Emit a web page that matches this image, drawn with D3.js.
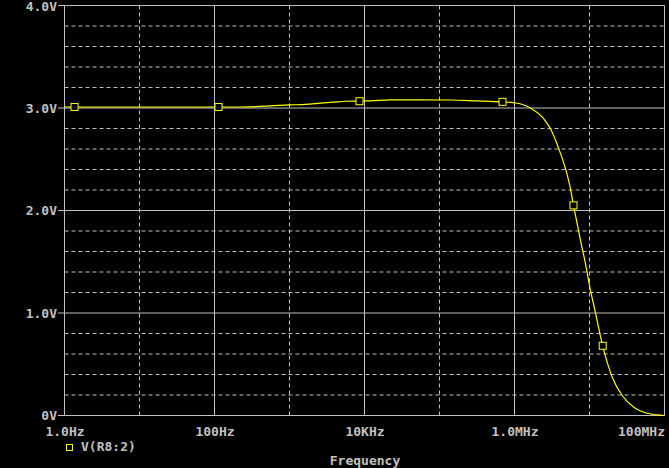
<!DOCTYPE html>
<html>
<head>
<meta charset="utf-8">
<script src="https://cdn.jsdelivr.net/npm/d3@7"></script>
<style>
html,body{margin:0;padding:0;background:#000;}
svg{display:block;}
text{font-family:"DejaVu Sans Mono",monospace;font-weight:bold;font-size:13px;fill:#c0c0c0;}
</style>
</head>
<body>
<svg id="chart" width="669" height="468"></svg>
<script>
// Frequency (Hz) and voltage V(R8:2)
const freq = [1, 10, 100, 222, 558, 1000, 1635, 2590, 3860, 5580, 8580, 12000, 22200, 55800, 140000, 302000, 692000, 970000, 1.28e6, 1.63e6, 2.46e6, 3.02e6, 3.90e6, 4.79e6, 5.58e6, 6.12e6, 6.86e6, 7.75e6, 8.85e6, 1.03e7, 1.17e7, 1.50e7, 2.01e7, 2.73e7, 3.90e7, 5.88e7, 8.0e7, 1e8];
const volts = [3.01, 3.01, 3.01, 3.01, 3.02, 3.03, 3.035, 3.047, 3.057, 3.066, 3.068, 3.07, 3.08, 3.08, 3.078, 3.07, 3.06, 3.052, 3.034, 3.0, 2.895, 2.797, 2.602, 2.407, 2.212, 2.05, 1.87, 1.675, 1.48, 1.22, 1.041, 0.68, 0.374, 0.195, 0.081, 0.022, 0.006, 0.0];
const markerFreq = [1.36, 113, 8580, 692000, 6.12e6, 1.50e7];
const markerVolts = [3.01, 3.01, 3.066, 3.06, 2.05, 0.68];
const xTickVals = [1, 100, 1e4, 1e6, 1e8];
const xTickLabels = ["1.0Hz", "100Hz", "10KHz", "1.0MHz", "100MHz"];
const xMinorVals = [10, 1000, 1e5, 1e7];
const yTickVals = [0, 1, 2, 3, 4];
const yTickLabels = ["0V", "1.0V", "2.0V", "3.0V", "4.0V"];
const yMinorVals = [];
for (let i = 0; i < 20; i++) { if (i % 5 !== 0) yMinorVals.push(i / 5); }
const seriesName = "V(R8:2)";
const xTitle = "Frequency";

const svg = d3.select("#chart");
const x = d3.scaleLog().domain([1, 1e8]).range([64.5, 664.5]);
const y = d3.scaleLinear().domain([0, 4]).range([415.5, 5.5]);
const gray = "#c0c0c0";
const yellow = "#ffff00";

// dashed minor grid
svg.append("g").selectAll("line").data(yMinorVals).join("line")
  .attr("x1", x(1)).attr("x2", x(1e8)).attr("y1", d => y(d)).attr("y2", d => y(d))
  .attr("stroke", gray).attr("stroke-width", 1).attr("stroke-dasharray", "4,3");
svg.append("g").selectAll("line").data(xMinorVals).join("line")
  .attr("x1", d => x(d)).attr("x2", d => x(d)).attr("y1", y(0)).attr("y2", y(4))
  .attr("stroke", gray).attr("stroke-width", 1).attr("stroke-dasharray", "4,3");

// solid major grid
svg.append("g").selectAll("line").data(yTickVals).join("line")
  .attr("x1", x(1)).attr("x2", x(1e8)).attr("y1", d => y(d)).attr("y2", d => y(d))
  .attr("stroke", gray).attr("stroke-width", 1);
svg.append("g").selectAll("line").data(xTickVals).join("line")
  .attr("x1", d => x(d)).attr("x2", d => x(d)).attr("y1", y(0)).attr("y2", y(4))
  .attr("stroke", gray).attr("stroke-width", 1);

// y axis ticks + labels
svg.append("g").selectAll("line").data(yTickVals).join("line")
  .attr("x1", 58).attr("x2", x(1)).attr("y1", d => y(d)).attr("y2", d => y(d))
  .attr("stroke", gray);
svg.append("g").selectAll("text").data(yTickVals).join("text")
  .attr("x", 57).attr("y", d => Math.max(y(d) + 4.5, 11))
  .attr("text-anchor", "end").text((d, i) => yTickLabels[i]);

// x labels
svg.append("g").selectAll("text").data(xTickVals).join("text")
  .attr("x", (d, i) => i === xTickVals.length - 1 ? 665 : x(d) + 0.5)
  .attr("y", 436)
  .attr("text-anchor", (d, i) => i === xTickVals.length - 1 ? "end" : "middle")
  .text((d, i) => xTickLabels[i]);

// curve
const data = freq.map((f, i) => [f, volts[i]]);
svg.append("path").datum(data)
  .attr("fill", "none").attr("stroke", yellow).attr("stroke-width", 1.2)
  .attr("d", d3.line().x(d => x(d[0])).y(d => y(d[1])).curve(d3.curveMonotoneX));

// markers
const mk = markerFreq.map((f, i) => [f, markerVolts[i]]);
svg.append("g").selectAll("rect").data(mk).join("rect")
  .attr("x", d => x(d[0]) - 3.5).attr("y", d => y(d[1]) - 3.5)
  .attr("width", 7).attr("height", 7)
  .attr("fill", "#000").attr("stroke", yellow).attr("stroke-width", 1);

// legend
svg.append("rect").attr("x", 66.5).attr("y", 444.5).attr("width", 6).attr("height", 6)
  .attr("fill", "none").attr("stroke", yellow).attr("stroke-width", 1);
svg.append("text").attr("x", 81).attr("y", 451).text(seriesName);

// x title
svg.append("text").attr("x", 365).attr("y", 465).attr("text-anchor", "middle").text(xTitle);
</script>
</body>
</html>
